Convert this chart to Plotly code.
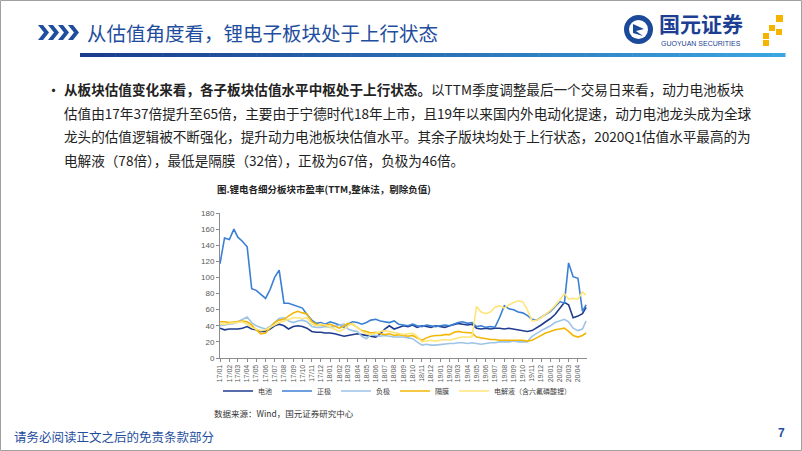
import plotly.graph_objects as go

# ---------------- data ----------------
series_names = ["电池", "正极", "负极", "隔膜", "电解液（含六氟磷酸锂）"]

tick_labels = ["17/01", "17/02", "17/03", "17/04", "17/05", "17/06", "17/07", "17/08", "17/09", "17/10",
               "17/11", "17/12", "18/01", "18/02", "18/03", "18/04", "18/05", "18/06", "18/07", "18/08",
               "18/09", "18/10", "18/11", "18/12", "19/01", "19/02", "19/03", "19/04", "19/05", "19/06",
               "19/07", "19/08", "19/09", "19/10", "19/11", "19/12", "20/01", "20/02", "20/03", "20/04"]

# semi-monthly observation dates (1st and 16th of each month) + last trading day shown
dates = []
for lab in tick_labels:
    yy, mm = lab.split("/")
    dates.append(f"20{yy}-{mm}-01")
    dates.append(f"20{yy}-{mm}-16")
dates.append("2020-04-28")
tick_vals = [f"20{l.split('/')[0]}-{l.split('/')[1]}-01" for l in tick_labels]

battery = [37, 35, 36, 36, 36, 37, 39, 36, 35, 33,
           33, 36, 40, 42, 40, 36, 39, 40, 39, 37,
           33, 32, 32, 31, 31, 30, 28, 27, 28, 29,
           30, 29, 28, 27, 26, 30, 36, 40, 36, 38,
           40, 39, 41, 38, 40, 39, 38, 40, 39, 38,
           40, 42, 43, 42, 41, 42, 37, 36, 37, 36,
           37, 37, 36, 37, 36, 35, 34, 33, 34, 37,
           41, 45, 49, 54, 62, 69, 66, 50, 52, 55,
           63]

cathode = [117, 149, 147, 160, 150, 145, 138, 86, 84, 79,
           74, 85, 100, 109, 68, 68, 66, 64, 62, 54,
           47, 43, 44, 42, 45, 43, 41, 38, 42, 45,
           44, 42, 44, 47, 48, 46, 45, 44, 46, 42,
           41, 40, 42, 40, 39, 41, 40, 39, 40, 41,
           40, 42, 44, 45, 43, 44, 39, 40, 38, 39,
           38, 50, 65, 61, 60, 57, 56, 53, 48, 47,
           50, 54, 58, 64, 70, 68, 118, 101, 99, 58,
           66]

anode = [40, 41, 42, 43, 45, 48, 51, 44, 40, 38,
         36, 39, 44, 49, 50, 46, 44, 46, 47, 45,
         39, 38, 38, 39, 38, 39, 41, 42, 36, 34,
         33, 27, 24, 29, 28, 27, 28, 27, 26, 26,
         26, 25, 24, 20, 16, 17, 16, 16, 17, 17,
         18, 18, 19, 19, 18, 19, 18, 17, 18, 19,
         19, 20, 20, 20, 21, 20, 20, 20, 27, 31,
         34, 37, 40, 44, 46, 48, 45, 37, 34, 36,
         46]

separator = [45, 45, 44, 45, 45, 46, 45, 41, 35, 30,
             31, 37, 44, 47, 48, 52, 56, 58, 56, 55,
             45, 42, 41, 40, 42, 40, 37, 40, 43, 42,
             38, 34, 33, 31, 32, 30, 29, 30, 28, 29,
             28, 27, 28, 25, 22, 25, 27, 28, 28, 29,
             29, 32, 33, 32, 31, 31, 26, 25, 24, 23,
             23, 22, 22, 22, 22, 22, 22, 21, 22, 25,
             28, 31, 33, 35, 36, 37, 33, 28, 26, 28,
             31]

electrolyte = [42, 42, 43, 44, 44, 45, 42, 38, 36, 34,
               35, 38, 41, 44, 46, 48, 50, 50, 49, 50,
               42, 40, 42, 41, 38, 35, 33, 36, 40, 43,
               38, 33, 30, 29, 31, 33, 34, 33, 31, 30,
               29, 30, 31, 27, 20, 21, 22, 21, 22, 23,
               22, 24, 25, 26, 26, 26, 64, 57, 55, 57,
               63, 65, 62, 66, 69, 71, 70, 60, 46, 47,
               50, 54, 59, 65, 72, 80, 73, 74, 73, 82,
               78]

series_values = [battery, cathode, anode, separator, electrolyte]
series_colors = ["#1F3C8F", "#3A7FD6", "#9DC3E6", "#F2B705", "#FFE57A"]

# ---------------- layout helpers (pixel -> paper) ----------------
L, R, T, B = 220, 587, 213, 358
W, H = R - L, B - T


def PX(x):
    return (x - L) / W


def PY(y):
    return (B - y) / H


fig = go.Figure()
for name, vals, color in zip(series_names, series_values, series_colors):
    fig.add_trace(go.Scatter(x=dates, y=vals, mode="lines", name=name,
                             line=dict(color=color, width=1.6)))

shapes = []
annotations = []

# slide border
shapes.append(dict(type="rect", xref="paper", yref="paper",
                   x0=PX(0.5), x1=PX(801.5), y0=PY(0.5), y1=PY(450.5),
                   line=dict(color="#A0A0A0", width=1), fillcolor="rgba(0,0,0,0)", layer="below"))

# chevrons
for x0 in [38, 48, 58, 68]:
    pts = [(x0, 25), (x0 + 5, 25), (x0 + 11, 32.5), (x0 + 5, 40), (x0, 40), (x0 + 6, 32.5)]
    path = "M " + " L ".join(f"{PX(a)},{PY(b)}" for a, b in pts) + " Z"
    shapes.append(dict(type="path", xref="paper", yref="paper", path=path,
                       fillcolor="#1F4E9E", line=dict(width=0)))

# gradient rule under the title
n_seg = 60
x_start, x_end = 80, 785
c0 = (27, 60, 140)
c1 = (58, 165, 225)
for i in range(n_seg):
    t = i / (n_seg - 1)
    c = tuple(int(c0[k] + (c1[k] - c0[k]) * t) for k in range(3))
    xa = x_start + (x_end - x_start) * i / n_seg
    xb = x_start + (x_end - x_start) * (i + 1) / n_seg + 0.5
    shapes.append(dict(type="rect", xref="paper", yref="paper",
                       x0=PX(xa), x1=PX(xb), y0=PY(57), y1=PY(53),
                       fillcolor=f"rgb{c}", line=dict(width=0)))

# logo circle
shapes.append(dict(type="circle", xref="paper", yref="paper",
                   x0=PX(624), x1=PX(653), y0=PY(44), y1=PY(15),
                   fillcolor="#1C4A9A", line=dict(width=0)))
shapes.append(dict(type="circle", xref="paper", yref="paper",
                   x0=PX(629), x1=PX(648), y0=PY(39), y1=PY(20),
                   fillcolor="white", line=dict(width=0)))
shapes.append(dict(type="path", xref="paper", yref="paper",
                   path=f"M {PX(633)},{PY(24)} L {PX(644)},{PY(29)} L {PX(636)},{PY(31)} L {PX(643)},{PY(36)} L {PX(633)},{PY(33)} Z",
                   fillcolor="#1C4A9A", line=dict(width=0)))
# yellow squares of the logo
for (sx, sy, s) in [(776, 15, 7), (769, 25, 6), (763, 33, 6), (776, 29, 6), (763, 40, 6)]:
    shapes.append(dict(type="rect", xref="paper", yref="paper",
                       x0=PX(sx), x1=PX(sx + s), y0=PY(sy + s), y1=PY(sy),
                       fillcolor="#F5B400", line=dict(width=0)))

CJK = "Noto Sans CJK SC"


def add_text(x, y, text, size, color="#222222", anchor="left", family=CJK, vanchor="middle"):
    annotations.append(dict(x=PX(x), y=PY(y), xref="paper", yref="paper", text=text,
                            showarrow=False, xanchor=anchor, yanchor=vanchor,
                            font=dict(size=size, color=color, family=family)))


add_text(85, 32, "从估值角度看，锂电子板块处于上行状态", 19.5, "#1F4E9E")
add_text(657, 23, "<b>国元证券</b>", 21, "#1C3F94")
add_text(659, 43.5, "GUOYUAN SECURITIES", 7, "#1C3F94", family="Arial")

add_text(44, 89, "•", 15)
body = [
    "<b>从板块估值变化来看，各子板块估值水平中枢处于上行状态。</b>以TTM季度调整最后一个交易日来看，动力电池板块",
    "估值由17年37倍提升至65倍，主要由于宁德时代18年上市，且19年以来国内外电动化提速，动力电池龙头成为全球",
    "龙头的估值逻辑被不断强化，提升动力电池板块估值水平。其余子版块均处于上行状态，2020Q1估值水平最高的为",
    "电解液（78倍），最低是隔膜（32倍），正极为67倍，负极为46倍。",
]
for i, line in enumerate(body):
    add_text(62, 89 + i * 23.7, line, 13.6)

add_text(215, 189, "<b>图.锂电各细分板块市盈率(TTM,整体法，剔除负值)</b>", 9.5, "#222222")
add_text(212, 413, "数据来源：Wind，国元证券研究中心", 8.5, "#333333")
add_text(12, 436, "请务必阅读正文之后的免责条款部分", 12.5, "#1F4E9E")
add_text(787, 433, "<b>7</b>", 12, "#1F4E9E", anchor="right", family="Arial")

fig.update_layout(
    width=802, height=451,
    margin=dict(l=L, r=802 - R, t=T, b=451 - B, autoexpand=False),
    paper_bgcolor="white", plot_bgcolor="white",
    showlegend=True,
    legend=dict(orientation="h", x=PX(397), xanchor="center", y=PY(391), yanchor="middle",
                font=dict(size=7, color="#404040", family=CJK), itemwidth=30,
                tracegroupgap=0, bgcolor="rgba(0,0,0,0)"),
    shapes=shapes, annotations=annotations,
    xaxis=dict(type="date", range=["2017-01-01", "2020-05-01"],
               tickvals=tick_vals, ticktext=tick_labels, tickangle=-90,
               tickfont=dict(size=7, color="#595959", family="Arial"),
               showline=True, linecolor="#8C8C8C", linewidth=1,
               ticks="outside", ticklen=3, tickcolor="#8C8C8C",
               showgrid=False, zeroline=False, automargin=False),
    yaxis=dict(range=[0, 180], dtick=20,
               tickfont=dict(size=8, color="#595959", family="Arial"),
               showline=True, linecolor="#8C8C8C", linewidth=1,
               ticks="outside", ticklen=3, tickcolor="#8C8C8C",
               showgrid=False, zeroline=False, automargin=False),
)

fig.write_html("out.html")
